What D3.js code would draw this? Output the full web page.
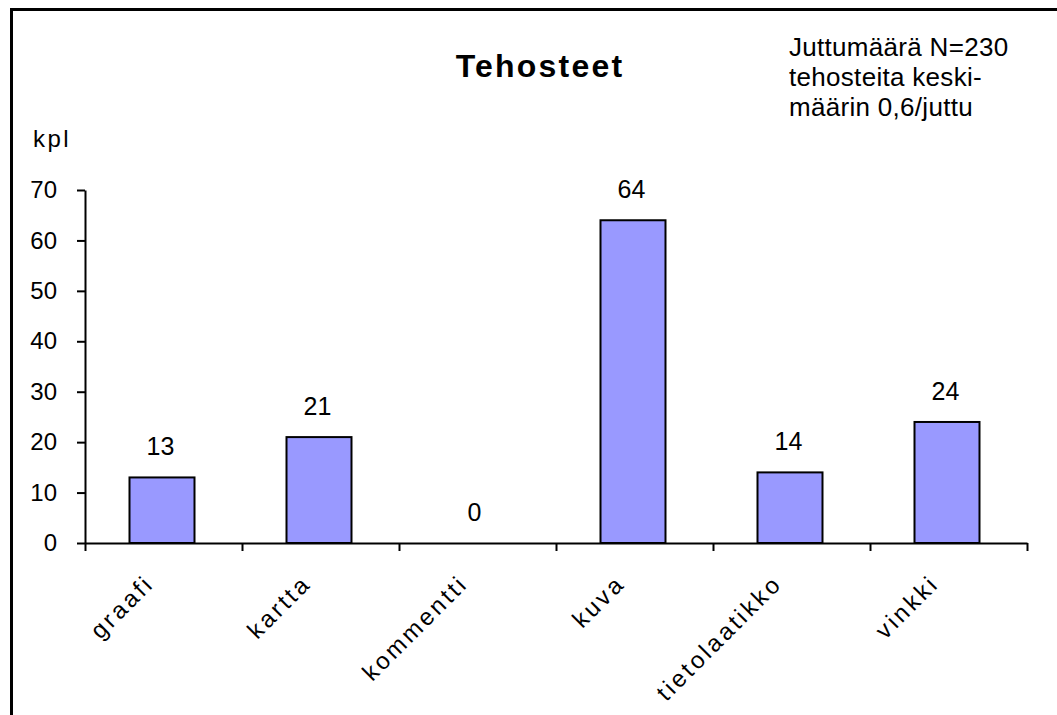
<!DOCTYPE html>
<html>
<head>
<meta charset="utf-8">
<script src="https://cdn.jsdelivr.net/npm/d3@7"></script>
<style>
  html, body { margin: 0; padding: 0; background: #fff; }
  svg { display: block; }
  text { font-family: "Liberation Sans", Arial, sans-serif; fill: #000; }
</style>
</head>
<body>
<svg id="chart" width="1057" height="715"></svg>
<script>
const categories = ["graafi", "kartta", "kommentti", "kuva", "tietolaatikko", "vinkki"];
const values = [13, 21, 0, 64, 14, 24];
const yTicks = [0, 10, 20, 30, 40, 50, 60, 70];
const titleText = "Tehosteet";
const yLabel = "kpl";
const noteLines = ["Juttumäärä N=230", "tehosteita keski-", "määrin 0,6/juttu"];

const svg = d3.select("#chart");

// outer frame (only top and left edges visible in the reference)
svg.append("rect")
  .attr("x", 11.5).attr("y", 9.5)
  .attr("width", 1100).attr("height", 800)
  .attr("fill", "#fff").attr("stroke", "#000").attr("stroke-width", 3);

const x = d3.scaleBand().domain(categories).range([85, 1027]).padding(0);
const y = d3.scaleLinear().domain([0, 70]).range([543, 190]);

const barFrac = 0.414;
const bw = x.bandwidth() * barFrac;

// bars
svg.append("g").selectAll("rect")
  .data(categories)
  .join("rect")
  .attr("x", (d) => x(d) + (x.bandwidth() - bw) / 2 - 1.5)
  .attr("y", (d, i) => y(values[i]))
  .attr("width", bw)
  .attr("height", (d, i) => y(0) - y(values[i]))
  .attr("fill", "#9999FF")
  .attr("stroke", "#000")
  .attr("stroke-width", 2);

// value labels
svg.append("g").selectAll("text")
  .data(categories)
  .join("text")
  .attr("x", (d) => x(d) + x.bandwidth() / 2 - 3)
  .attr("y", (d, i) => y(values[i]) - 22)
  .attr("text-anchor", "middle")
  .style("font-size", "25px")
  .text((d, i) => values[i]);

// y axis
const yAxis = d3.axisLeft(y).tickValues(yTicks).tickSize(8).tickPadding(20).tickSizeOuter(0);
const gy = svg.append("g").attr("transform", "translate(85,0)").call(yAxis);
gy.select(".domain").attr("stroke", "#000").attr("stroke-width", 2);
gy.selectAll(".tick line").attr("stroke", "#000").attr("stroke-width", 2);
gy.selectAll(".tick text").style("font-size", "24px").style("font-family", "Liberation Sans, Arial, sans-serif").attr("fill", "#000");

// x axis line with ticks at category boundaries
const xAxisScale = d3.scaleLinear().domain([0, categories.length]).range(x.range());
const xAxis = d3.axisBottom(xAxisScale).tickValues(d3.range(categories.length + 1)).tickSize(8).tickSizeOuter(0).tickFormat("");
const gx = svg.append("g").attr("transform", "translate(0,543)").call(xAxis);
gx.select(".domain").attr("stroke", "#000").attr("stroke-width", 2);
gx.selectAll(".tick line").attr("stroke", "#000").attr("stroke-width", 2);

// category labels rotated -45
svg.append("g").selectAll("text")
  .data(categories)
  .join("text")
  .attr("transform", (d) => `translate(${x(d) + x.bandwidth() / 2 - 8},585) rotate(-45)`)
  .attr("text-anchor", "end")
  .style("font-size", "24px")
  .style("letter-spacing", "3px")
  .text((d) => d);

// title
svg.append("text")
  .attr("x", 540).attr("y", 77)
  .attr("text-anchor", "middle")
  .style("font-size", "32px")
  .style("font-weight", "bold")
  .style("letter-spacing", "2.2px")
  .text(titleText);

// y label
svg.append("text")
  .attr("x", 33).attr("y", 147)
  .style("font-size", "24px")
  .style("letter-spacing", "2.5px")
  .text(yLabel);

// note box text
svg.append("g").selectAll("text")
  .data(noteLines)
  .join("text")
  .attr("x", 789)
  .attr("y", (d, i) => 56 + i * 30)
  .style("font-size", "26px")
  .style("letter-spacing", "0.3px")
  .text((d) => d);
</script>
</body>
</html>
